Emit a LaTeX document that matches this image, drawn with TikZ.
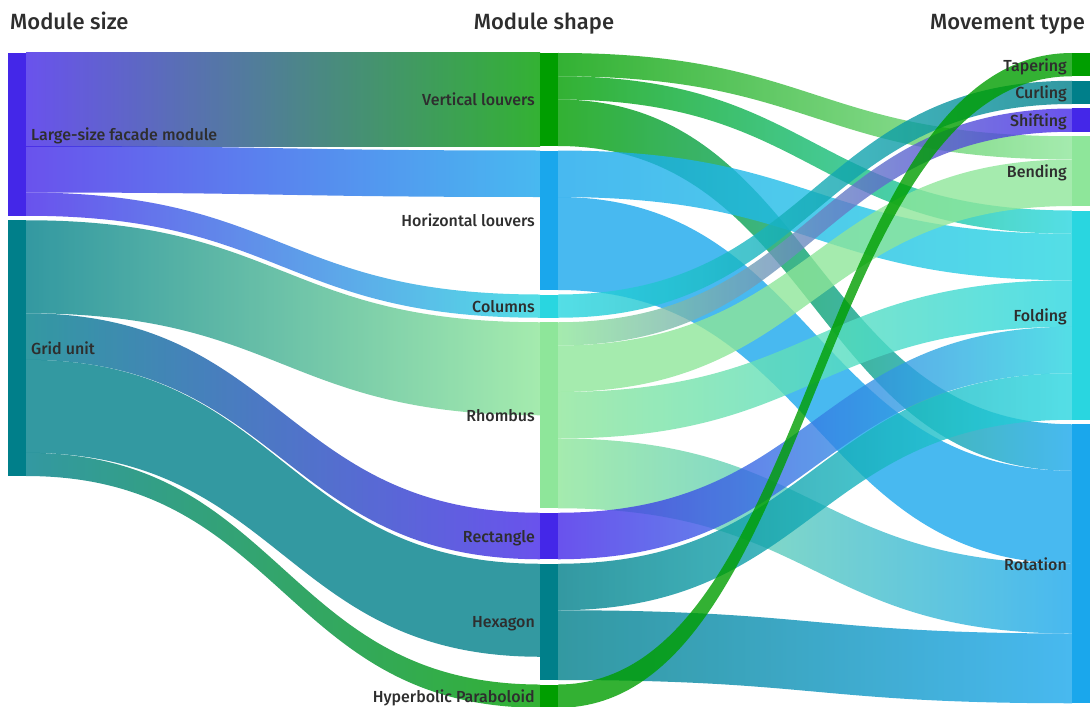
\documentclass[tikz,border=0pt]{standalone}
\usepackage{fontspec}
\setmainfont{Fira Sans}
\newfontfamily\mediumfont{Fira Sans Medium}
\usepackage{xcolor}
\usetikzlibrary{positioning}
\usetikzlibrary{calc}
\usetikzlibrary{backgrounds}

\definecolor{purpleNode}{HTML}{4427E8}
\definecolor{tealNode}{HTML}{007F8A}
\definecolor{greenNode}{HTML}{009E00}
\definecolor{blueNode}{HTML}{1AA7EC}
\definecolor{cyanNode}{HTML}{29D6E0}
\definecolor{mintNode}{HTML}{8EE69A}
\definecolor{textGrey}{HTML}{2E2E2E}

\newdimen\flowunit
\flowunit=23.25pt

% band from #1 (offset #2) to #3 (offset #4), #5 units wide, colours #6 -> #7
\newcommand{\linkband}[7]{%
  \shade[left color=#6, right color=#7, fill opacity=0.8]
    let \p1=(#1.north east), \p2=(#3.north west) in
    (\x1, {\y1-#2*\flowunit})
    .. controls ({(\x1+\x2)/2}, {\y1-#2*\flowunit}) and ({(\x1+\x2)/2}, {\y2-#4*\flowunit}) ..
    (\x2, {\y2-#4*\flowunit})
    -- (\x2, {\y2-(#4+#5)*\flowunit})
    .. controls ({(\x1+\x2)/2}, {\y2-(#4+#5)*\flowunit}) and ({(\x1+\x2)/2}, {\y1-(#2+#5)*\flowunit}) ..
    (\x1, {\y1-(#2+#5)*\flowunit}) -- cycle;
}

\begin{document}
\begin{tikzpicture}[
    x=1pt, y=-1pt,
    bar/.style={fill=#1, draw=none, anchor=north west, inner sep=0pt, outer sep=0pt, minimum width=18pt},
    every label/.style={text=textGrey, font=\mediumfont\fontsize{16}{18}\selectfont, inner sep=0pt, text depth=0pt},
    label distance=5pt,
    heading/.style={text=textGrey, font=\mediumfont\fontsize{22}{26}\selectfont, inner sep=0pt}
]
\useasboundingbox (0,0) rectangle (1091,706);

% column titles
\node[heading, anchor=base west] (sizeTitle) at (10,30) {Module size};
\node[heading, anchor=base] (shapeTitle) at (544,30) {Module shape};
\node[heading, anchor=base east] (moveTitle) at (1085,30) {Movement type};

% module size
\node[bar=purpleNode, minimum height=7*\flowunit, label=east:Large-size facade module] (large) at (8,53) {};
\node[bar=tealNode, minimum height=11*\flowunit, label=east:Grid unit, below=4.5pt of large] (grid) {};

% module shape
\node[bar=greenNode, minimum height=4*\flowunit, label=west:Vertical louvers] (vl) at (540,53) {};
\node[bar=blueNode, minimum height=6*\flowunit, label=west:Horizontal louvers, below=4.5pt of vl] (hl) {};
\node[bar=cyanNode, minimum height=1*\flowunit, label=west:Columns, below=4.5pt of hl] (col) {};
\node[bar=mintNode, minimum height=8*\flowunit, label=west:Rhombus, below=4.5pt of col] (rho) {};
\node[bar=purpleNode, minimum height=2*\flowunit, label=west:Rectangle, below=4.5pt of rho] (rect) {};
\node[bar=tealNode, minimum height=5*\flowunit, label=west:Hexagon, below=4.5pt of rect] (hex) {};
\node[bar=greenNode, minimum height=1*\flowunit, label=west:Hyperbolic Paraboloid, below=4.5pt of hex] (hp) {};

% movement type
\node[bar=greenNode, minimum height=1*\flowunit, label=west:Tapering] (tap) at (1072,53) {};
\node[bar=tealNode, minimum height=1*\flowunit, label=west:Curling, below=4.5pt of tap] (curl) {};
\node[bar=purpleNode, minimum height=1*\flowunit, label=west:Shifting, below=4.5pt of curl] (shift) {};
\node[bar=mintNode, minimum height=3*\flowunit, label=west:Bending, below=4.5pt of shift] (bend) {};
\node[bar=cyanNode, minimum height=9*\flowunit, label=west:Folding, below=4.5pt of bend] (fold) {};
\node[bar=blueNode, minimum height=12*\flowunit, label=west:Rotation, below=4.5pt of fold] (rot) {};

\begin{pgfonlayer}{background}
% size -> shape
\linkband{large}{0}{vl}{0}{4}{purpleNode}{greenNode}
\linkband{large}{4}{hl}{0}{2}{purpleNode}{blueNode}
\linkband{large}{6}{col}{0}{1}{purpleNode}{cyanNode}
\linkband{grid}{0}{rho}{0}{4}{tealNode}{mintNode}
\linkband{grid}{4}{rect}{0}{2}{tealNode}{purpleNode}
\linkband{grid}{6}{hex}{0}{4}{tealNode}{tealNode}
\linkband{grid}{10}{hp}{0}{1}{tealNode}{greenNode}
% shape -> movement
\linkband{vl}{0}{bend}{0}{1}{greenNode}{mintNode}
\linkband{vl}{1}{fold}{0}{1}{greenNode}{cyanNode}
\linkband{vl}{2}{rot}{0}{2}{greenNode}{blueNode}
\linkband{hl}{0}{fold}{1}{2}{blueNode}{cyanNode}
\linkband{hl}{2}{rot}{2}{4}{blueNode}{blueNode}
\linkband{col}{0}{curl}{0}{1}{cyanNode}{tealNode}
\linkband{rho}{0}{shift}{0}{1}{mintNode}{purpleNode}
\linkband{rho}{1}{bend}{1}{2}{mintNode}{mintNode}
\linkband{rho}{3}{fold}{3}{2}{mintNode}{cyanNode}
\linkband{rho}{5}{rot}{6}{3}{mintNode}{blueNode}
\linkband{rect}{0}{fold}{5}{2}{purpleNode}{cyanNode}
\linkband{hex}{0}{fold}{7}{2}{tealNode}{cyanNode}
\linkband{hex}{2}{rot}{9}{3}{tealNode}{blueNode}
\linkband{hp}{0}{tap}{0}{1}{greenNode}{greenNode}
\end{pgfonlayer}
\end{tikzpicture}
\end{document}
